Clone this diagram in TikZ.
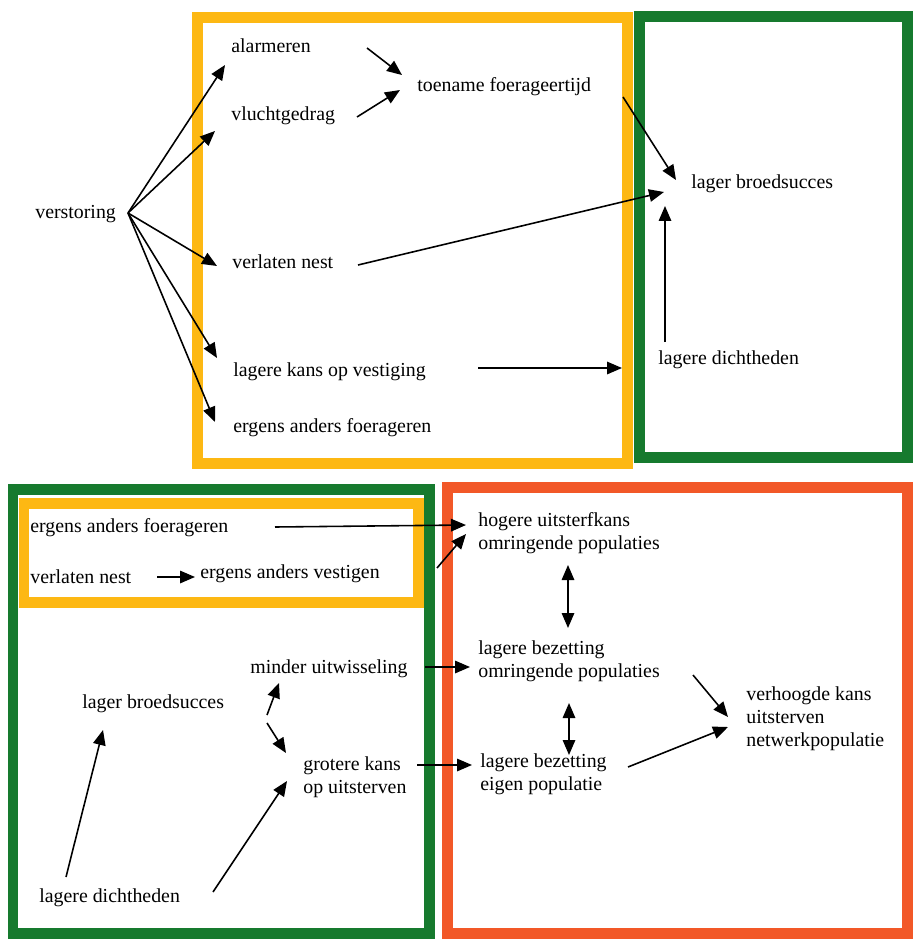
\documentclass[tikz,border=0pt]{standalone}
\usepackage{fontspec}
\setmainfont{Liberation Serif}
\usepackage{tikz}
\usetikzlibrary{positioning,arrows.meta,calc}
\definecolor{geel}{RGB}{253,184,19}
\definecolor{groen}{RGB}{22,122,46}
\definecolor{rood}{RGB}{242,88,40}
\tikzstyle{effect}=[inner sep=0pt, anchor=base west, align=left,
        font=\fontsize{11.3}{12.9}\selectfont]
\tikzstyle{kader}=[line width=0.22cm]
\tikzstyle{causal}=[->, >={Triangle[length=0.3cm,width=0.25cm]}, line width=0.9pt]
\tikzstyle{wederzijds}=[<->, >={Triangle[length=0.3cm,width=0.25cm]}, line width=0.9pt]

\begin{document}
\begin{tikzpicture}[x=0.02cm, y=-0.02cm]
\useasboundingbox (0,0) rectangle (912,939);

\draw[kader, draw=geel] (197,18) rectangle (627,463);
\draw[kader, draw=groen] (639,17) rectangle (907,457);
\draw[kader, draw=groen] (13,489) rectangle (429,933);
\draw[kader, draw=geel] (24,503) rectangle (418,602);
\draw[kader, draw=rood] (447,487) rectangle (907,933);

	\node (verstoring) [effect] at (35,218) {verstoring};
	\node (alarmeren) [effect] at (231,53) {alarmeren};
	\node (vluchtgedrag) [effect] at (231,121) {vluchtgedrag};
	\node (toename) [effect] at (417,92) {toename foerageertijd};
	\node (verlatenNest) [effect] at (232,268) {verlaten nest};
	\node (lagereKans) [effect] at (233,376) {lagere kans op vestiging};
	\node (ergensAnders) [effect] at (233,432) {ergens anders foerageren};

	\node (broedTop) [effect] at (691,189) {lager broedsucces};
	\node (dichtTop) [effect] at (658,364) {lagere dichtheden};
	\coordinate (greenEdge) at (622,368);

	\node (ergensAndersB) [effect] at (30,532) {ergens anders foerageren};
	\node (verlatenNestB) [effect] at (30,583) {verlaten nest};
	\node (vestigen) [effect] at (200,578) {ergens anders vestigen};
	\coordinate (yellowEdge) at (437,568);

	\node (minderUitw) [effect] at (250,673) {minder uitwisseling};
	\node (broedB) [effect] at (82,708) {lager broedsucces};
	\node (grotereKans) [effect] at (303,793) {grotere kans\\op uitsterven};
	\node (dichtB) [effect] at (39,902) {lagere dichtheden};
	\coordinate (splitB) at (267,719);

	\node (hogereUitst) [effect] at (478,549) {hogere uitsterfkans\\omringende populaties};
	\node (bezetOmr) [effect] at (478,677) {lagere bezetting\\omringende populaties};
	\node (bezetEigen) [effect] at (480,790) {lagere bezetting\\eigen populatie};
	\node (verhoogd) [effect] at (746,746) {verhoogde kans\\uitsterven\\netwerkpopulatie};

\draw[causal] ($(verstoring.base west)+(93,-5)$) -- ($(alarmeren.base west)+(-6,12)$);
\draw[causal] ($(verstoring.base west)+(93,-5)$) -- ($(vluchtgedrag.base west)+(-16,10)$);
\draw[causal] ($(verstoring.base west)+(93,-5)$) -- ($(verlatenNest.base west)+(-15,-2)$);
\draw[causal] ($(verstoring.base west)+(93,-5)$) -- ($(lagereKans.base west)+(-16,-18)$);
\draw[causal] ($(verstoring.base west)+(93,-5)$) -- ($(ergensAnders.base west)+(-18,-10)$);

\draw[causal] ($(alarmeren.base west)+(136,-5)$) -- ($(toename.base west)+(-15,-17)$);
\draw[causal] ($(vluchtgedrag.base west)+(126,-4)$) -- ($(toename.base west)+(-17,-2)$);
\draw[causal] ($(toename.base west)+(206,5)$) -- ($(broedTop.base west)+(-15,-9)$);
\draw[causal] ($(verlatenNest.base west)+(126,-3)$) -- ($(broedTop.base west)+(-27,3)$);
\draw[causal] ($(dichtTop.base west)+(7,-22)$) -- ($(broedTop.base west)+(-26,17)$);
\draw[causal] ($(lagereKans.base west)+(245,-8)$) -- (greenEdge);

\draw[causal] ($(verlatenNestB.base west)+(127,-6)$) -- ($(vestigen.base west)+(-5,-1)$);
\draw[causal] ($(ergensAndersB.base west)+(245,-5)$) -- ($(hogereUitst.base west)+(-12,-24)$);
\draw[causal] (yellowEdge) -- ($(hogereUitst.base west)+(-12,-15)$);

\draw[causal] ($(dichtB.base west)+(27,-25)$) -- ($(broedB.base west)+(21,22)$);
\draw[causal] ($(dichtB.base west)+(174,-10)$) -- ($(grotereKans.base west)+(-16,-12)$);
\draw[causal] ($(splitB)+(0,-4)$) -- ($(minderUitw.base west)+(29,10)$);
\draw[causal] ($(splitB)+(0,4)$) -- ($(grotereKans.base west)+(-17,-40)$);
\draw[causal] ($(minderUitw.base west)+(175,-6)$) -- ($(bezetOmr.base west)+(-8,-10)$);
\draw[causal] ($(grotereKans.base west)+(114,-28)$) -- ($(bezetEigen.base west)+(-8,-25)$);

\draw[wederzijds] ($(hogereUitst.base west)+(90,16)$) -- ($(bezetOmr.base west)+(90,-49)$);
\draw[wederzijds] ($(bezetOmr.base west)+(91,26)$) -- ($(bezetEigen.base west)+(89,-35)$);
\draw[causal] ($(bezetOmr.base west)+(215,-2)$) -- ($(verhoogd.base west)+(-18,-29)$);
\draw[causal] ($(bezetEigen.base west)+(148,-23)$) -- ($(verhoogd.base west)+(-18,-19)$);

\end{tikzpicture}
\end{document}
